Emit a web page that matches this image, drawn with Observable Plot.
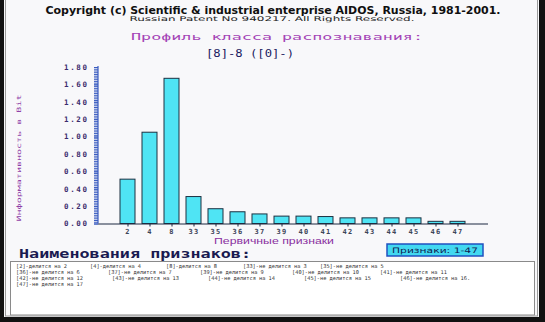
<!DOCTYPE html>
<html>
<head>
<meta charset="utf-8">
<script src="https://cdn.jsdelivr.net/npm/d3@7"></script>
<script src="https://cdn.jsdelivr.net/npm/@observablehq/plot@0.6"></script>
<style>
  html, body { margin: 0; padding: 0; background: #000; }
  #screen { position: relative; width: 545px; height: 322px; background: #f8f8fa; overflow: hidden; }
  #screen svg { position: absolute; left: 0; top: 0; }
  g[aria-label="y-axis tick label"] text { fill: #3b2c6c; letter-spacing: 1.6px; }
  g[aria-label="x-axis tick label"] text { fill: #3c4458; letter-spacing: 1.2px; }
  g[aria-label="y-axis tick"] path { stroke: #3a5cc0; }
  g[aria-label="x-axis tick"] path { stroke: #1c2840; }
</style>
</head>
<body>
<div id="screen"></div>
<script>
// Primary features (x categories) and their informativeness in bits
const features = ["2", "4", "8", "33", "35", "36", "37", "39", "40", "41", "42", "43", "44", "45", "46", "47"];
const informativeness = [0.51, 1.05, 1.67, 0.31, 0.17, 0.135, 0.11, 0.085, 0.085, 0.08, 0.065, 0.065, 0.065, 0.065, 0.025, 0.025];

// Y axis: labelled ticks and the dense ruler ticks
const yTicks = [0, 0.2, 0.4, 0.6, 0.8, 1.0, 1.2, 1.4, 1.6, 1.8];
const yRulerTicks = d3.range(0, 91).map(i => i * 0.02);

// Feature names listed under the chart
const featureNames = [
  "[2]-делится на 2", "[4]-делится на 4", "[8]-делится на 8", "[33]-не делится на 3", "[35]-не делится на 5",
  "[36]-не делится на 6", "[37]-не делится на 7", "[39]-не делится на 9", "[40]-не делится на 10", "[41]-не делится на 11",
  "[42]-не делится на 12", "[43]-не делится на 13", "[44]-не делится на 14", "[45]-не делится на 15", "[46]-не делится на 16.",
  "[47]-не делится на 17"
];

const headerTitle = "Copyright (c) Scientific & industrial enterprise AIDOS, Russia, 1981-2001.";
const headerSub = "Russian Patent No 940217. All Rights Reserved.";
const profileTitle = "Профиль класса распознавания:";
const classLabel = "[8]-8 ([0]-)";
const yTitle = "Информативность в Bit";
const xTitle = "Первичные признаки";
const rangeLabel = "Признаки: 1-47";
const namesTitle = "Наименования признаков:";

const rows = features.map((f, i) => ({feature: f, value: informativeness[i]}));

const marginLeft = 98;
const chart = Plot.plot({
  width: 545,
  height: 322,
  marginLeft,
  marginRight: 57,
  marginTop: 67,
  marginBottom: 98.5,
  style: {background: "transparent", overflow: "visible"},
  x: {domain: features, paddingInner: 0.3, paddingOuter: 0.63, axis: null},
  y: {domain: [0, 1.8], axis: null},
  marks: [
    Plot.barY(rows, {x: "feature", y: "value", fill: "#4fe4f4", stroke: "#1c3040", strokeWidth: 1}),
    Plot.ruleY([0], {stroke: "#1c2840", strokeWidth: 1.2}),
    Plot.axisY(yRulerTicks, {tickSize: 4, tickFormat: () => "", label: null}),
    Plot.axisY(yTicks, {
      tickSize: 4, tickPadding: 6, label: null,
      tickFormat: d => d.toFixed(2),
      fontSize: 7.5, fontWeight: "bold", fontFamily: "DejaVu Sans Mono"
    }),
    Plot.axisX({
      tickSize: 3, tickPadding: 2, label: null,
      fontSize: 7, fontWeight: "bold", fontFamily: "DejaVu Sans Mono"
    })
  ]
});

const screen = document.getElementById("screen");
screen.appendChild(chart);

// Screen furniture: frame, headings, boxes and the feature list
const yScale = chart.scale("y");
const deco = d3.create("svg").attr("width", 545).attr("height", 322);

// vertical axis line next to the ruler
deco.append("line")
  .attr("x1", marginLeft).attr("x2", marginLeft)
  .attr("y1", yScale.apply(1.8) - 1).attr("y2", yScale.apply(0))
  .attr("stroke", "#3a5cc0").attr("stroke-width", 1.2);

function label(text, x, y, opts = {}) {
  const t = deco.append("text")
    .attr("x", x).attr("y", y)
    .attr("text-anchor", opts.anchor || "middle")
    .attr("font-family", opts.family || "DejaVu Sans")
    .attr("font-size", opts.size || 8)
    .attr("font-weight", opts.weight || "normal")
    .attr("fill", opts.fill || "#111")
    .text(text);
  if (opts.length) t.attr("textLength", opts.length).attr("lengthAdjust", "spacingAndGlyphs");
  if (opts.transform) t.attr("transform", opts.transform);
  return t;
}

label(headerTitle, 273, 14, {size: 10.5, weight: "bold", family: "DejaVu Sans", length: 455, fill: "#101010"});
label(headerSub, 272, 20.5, {size: 6.5, family: "DejaVu Sans", length: 285, fill: "#222"});
label(profileTitle, 277, 39.5, {size: 8.5, family: "DejaVu Sans Mono", length: 292, fill: "#a444b6"});
label(classLabel, 250, 57, {size: 10.5, family: "DejaVu Sans Mono", length: 88, fill: "#1a2060"});
label(yTitle, 0, 0, {size: 6, family: "DejaVu Sans Mono", length: 127, fill: "#9040a8",
  transform: "translate(20.5,158) rotate(-90)"});
label(xTitle, 274, 244, {size: 9, family: "Liberation Sans", length: 120, fill: "#8a30a0"});
label(namesTitle, 19, 257.5, {size: 12, weight: "bold", family: "DejaVu Sans Mono", length: 232, fill: "#1a1a50", anchor: "start"});

// range box
deco.append("rect").attr("x", 387).attr("y", 244).attr("width", 96).attr("height", 12)
  .attr("fill", "#42d8f0").attr("stroke", "#2050c0").attr("stroke-width", 1.5);
label(rangeLabel, 435, 253.3, {size: 7.5, family: "DejaVu Sans", length: 86, fill: "#102050"});

// feature list box
deco.append("rect").attr("x", 10.5).attr("y", 261.5).attr("width", 524).attr("height", 53.5)
  .attr("fill", "#ffffff").attr("stroke", "#8a8a8a").attr("stroke-width", 1);

const columnStarts = [[16, 90, 166, 243, 320], [16, 108, 200, 292, 380], [16, 112, 208, 304, 400], [16]];
let k = 0;
columnStarts.forEach((cols, r) => {
  cols.forEach(x => {
    if (k < featureNames.length) {
      label(featureNames[k], x, 267.5 + r * 6, {size: 5.3, family: "DejaVu Sans Mono", fill: "#333", anchor: "start"});
      k++;
    }
  });
});

// screen frame
deco.append("rect").attr("x", 0).attr("y", 0).attr("width", 4).attr("height", 322).attr("fill", "#111");
deco.append("rect").attr("x", 539).attr("y", 0).attr("width", 6).attr("height", 322).attr("fill", "#111");
deco.append("rect").attr("x", 0).attr("y", 317).attr("width", 545).attr("height", 5).attr("fill", "#111");
deco.append("rect").attr("x", 5.5).attr("y", -1).attr("width", 532).attr("height", 317)
  .attr("fill", "none").attr("stroke", "#9a9a9a").attr("stroke-width", 1);

screen.appendChild(deco.node());
</script>
</body>
</html>
